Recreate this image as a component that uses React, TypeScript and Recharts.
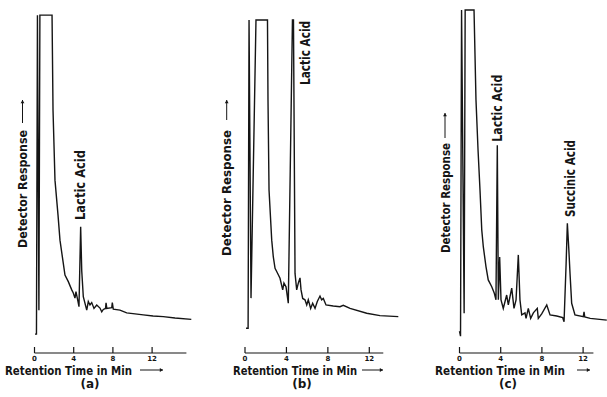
import { LineChart, Line, XAxis, YAxis, ReferenceLine, ReferenceDot } from "recharts"

// retention time (min) and detector response (arbitrary units, 100 = off scale)
const timeA = [0.05, 0.2, 0.3, 0.45, 0.55, 1.79, 1.89, 2.09, 2.4, 2.6, 2.84, 3.11, 3.45, 3.8, 3.96, 4.13, 4.23, 4.37, 4.54, 4.71, 4.82, 4.98, 5.33, 5.49, 5.66, 5.84, 6.07, 6.35, 6.68, 6.86, 7.02, 7.25, 7.3, 7.38, 7.88, 7.94, 8.04, 8.72, 9.41, 10.26, 11.1, 12.1, 13.14, 14.34, 16.0]
const respA = [5.5, 5.5, 98.5, 12.5, 98.5, 98.5, 70.8, 50.4, 40.2, 32.9, 28.1, 22.7, 20.8, 18.4, 17.5, 16.0, 17.9, 16.0, 13.5, 36.8, 24.0, 16.4, 12.5, 15.0, 14.0, 14.7, 13.0, 14.0, 13.1, 12.0, 12.7, 13.0, 14.6, 13.0, 13.2, 14.7, 12.8, 12.5, 11.7, 11.4, 11.1, 10.8, 10.6, 10.2, 9.8]

const timeB = [0.1, 0.3, 0.39, 0.58, 1.06, 2.17, 2.22, 2.32, 2.58, 2.73, 2.9, 3.12, 3.38, 3.64, 3.76, 3.96, 4.18, 4.58, 4.68, 4.83, 4.99, 5.14, 5.31, 5.41, 5.57, 5.79, 5.96, 6.11, 6.34, 6.53, 6.76, 6.98, 7.24, 7.4, 7.56, 7.82, 8.52, 9.17, 9.49, 10.14, 11.75, 13.03, 14.8]
const respB = [7.2, 7.2, 97.1, 16.0, 97.1, 97.1, 73.8, 47.5, 32.9, 28.1, 24.7, 23.4, 21.8, 18.4, 20.4, 19.3, 14.5, 97.1, 97.1, 23.2, 18.4, 20.3, 21.9, 18.4, 15.9, 15.5, 14.0, 15.5, 13.0, 14.5, 13.0, 15.0, 16.6, 15.5, 15.9, 14.0, 13.7, 13.5, 13.9, 13.0, 11.6, 10.9, 10.6]

const timeC = [0, 0.1, 0.2, 0.45, 0.55, 1.41, 1.6, 1.8, 1.99, 2.16, 2.31, 2.57, 2.79, 3.13, 3.38, 3.54, 3.67, 3.77, 3.9, 4.03, 4.25, 4.58, 4.74, 4.9, 5.07, 5.29, 5.49, 5.71, 5.87, 6.04, 6.36, 6.46, 6.68, 6.91, 7.17, 7.55, 7.65, 7.98, 8.47, 8.79, 9.44, 10.02, 10.15, 10.35, 10.47, 10.6, 10.73, 10.89, 11.21, 12.02, 12.09, 12.16, 12.69, 14.3]
const respC = [6.4, 4.9, 100, 11.6, 100, 100, 73.8, 59.2, 47.5, 35.9, 31.0, 25.2, 21.3, 19.3, 17.4, 15.5, 60.6, 15.5, 28.0, 15.5, 13.0, 16.9, 14.0, 16.4, 18.9, 13.0, 15.5, 28.6, 15.5, 11.1, 11.7, 10.1, 13.0, 10.1, 11.7, 13.0, 10.1, 11.4, 14.0, 11.1, 10.8, 10.3, 9.1, 26.0, 37.8, 31.0, 23.2, 14.5, 11.1, 10.6, 12.0, 10.5, 10.1, 9.6]

const minuteTicks = [0, 4, 8, 12]
const panelTags = ["(a)", "(b)", "(c)"]

const W = 607
const H = 397
const FONT = "'DejaVu Sans', 'Liberation Sans', sans-serif"
const INK = "#151515"

// layout of each panel (all three charts share the full 607x397 canvas)
const panels = [
  {
    time: timeA, resp: respA, tag: panelTags[0],
    left: 34.5, right: 415.7, end: 16, axisEnd: 15.5,
    titleX: 5, titleW: 127, arrowX: [140, 163], tagX: 90,
    ylX: 22.5, ylBottom: 248, ylLen: 118, ylArrow: [123, 100],
    peaks: [{ x: 4.71, y: 36.8, text: "Lactic Acid", dx: -0.7, dy: -6.8, len: 70 }],
  },
  {
    time: timeB, resp: respB, tag: panelTags[1],
    left: 245, right: 208.7, end: 14.8, axisEnd: 13.35,
    titleX: 233, titleW: 124, arrowX: [362, 383], tagX: 302,
    ylX: 226.7, ylBottom: 256, ylLen: 126, ylArrow: [120, 100],
    peaks: [{ x: 4.63, y: 97.1, text: "Lactic Acid", dx: 12, dy: 65, len: 64 }],
  },
  {
    time: timeC, resp: respC, tag: panelTags[2],
    left: 459.5, right: 0.2, end: 14.3, axisEnd: 13,
    titleX: 435, titleW: 130, arrowX: [577, 590], tagX: 508,
    ylX: 445, ylBottom: 253, ylLen: 110, ylArrow: [138, 113],
    peaks: [
      { x: 3.67, y: 60.6, text: "Lactic Acid", dx: -0.3, dy: -3.4, len: 67 },
      { x: 10.47, y: 37.8, text: "Succinic Acid", dx: 2.7, dy: -6.3, len: 77 },
    ],
  },
]

function Arrow({ x1, y1, x2, y2 }: any) {
  const a = Math.atan2(y2 - y1, x2 - x1)
  const s = 3.2
  const p1 = [x2 - s * Math.cos(a) + s * 0.6 * Math.sin(a), y2 - s * Math.sin(a) - s * 0.6 * Math.cos(a)]
  const p2 = [x2 - s * Math.cos(a) - s * 0.6 * Math.sin(a), y2 - s * Math.sin(a) + s * 0.6 * Math.cos(a)]
  return (
    <g>
      <line x1={x1} y1={y1} x2={x2} y2={y2} stroke={INK} strokeWidth={1} />
      <path d={`M${x2},${y2}L${p1[0]},${p1[1]}L${p2[0]},${p2[1]}Z`} fill={INK} />
    </g>
  )
}

function UpTick(props: any) {
  const { x, y, payload } = props
  return (
    <g>
      <line x1={x} x2={x} y1={y} y2={y - 6} stroke={INK} strokeWidth={1.2} />
      <text x={x} y={y + 8} textAnchor="middle" fontSize={7} fontWeight="bold" fontFamily={FONT} fill={INK}>
        {payload.value}
      </text>
    </g>
  )
}

function PanelText({ p }: any) {
  return (
    <g fontFamily={FONT} fontWeight="bold" fill={INK}>
      <text x={p.titleX} y={375} fontSize={12} textLength={p.titleW} lengthAdjust="spacingAndGlyphs">
        Retention Time in Min
      </text>
      <Arrow x1={p.arrowX[0]} y1={370} x2={p.arrowX[1]} y2={370} />
      <text x={p.tagX} y={388} fontSize={12} textAnchor="middle">
        {p.tag}
      </text>
      <text
        transform={`translate(${p.ylX},${p.ylBottom}) rotate(-90)`}
        y={4.6}
        fontSize={13}
        textLength={p.ylLen}
        lengthAdjust="spacingAndGlyphs"
      >
        Detector Response
      </text>
      <Arrow x1={p.ylX} y1={p.ylArrow[0]} x2={p.ylX} y2={p.ylArrow[1]} />
    </g>
  )
}

function PeakTag({ viewBox, text, dx, dy, len }: any) {
  const bx = (viewBox?.x ?? 0) + dx
  const by = (viewBox?.y ?? 0) + dy
  return (
    <text
      transform={`translate(${bx},${by}) rotate(-90)`}
      y={4.8}
      fontSize={13.5}
      fontWeight="bold"
      fontFamily={FONT}
      fill={INK}
      textLength={len}
      lengthAdjust="spacingAndGlyphs"
    >
      {text}
    </text>
  )
}

function Panel({ p }: any) {
  const data = p.time.map((t: number, i: number) => ({ t, r: p.resp[i] }))
  return (
    <div style={{ position: "absolute", left: 0, top: 0 }}>
      <LineChart width={W} height={H} data={data} margin={{ top: 10, right: p.right, bottom: 14, left: p.left }}>
        <XAxis
          type="number"
          dataKey="t"
          domain={[0, p.end]}
          ticks={minuteTicks}
          interval={0}
          axisLine={false}
          tickLine={false}
          tickSize={0}
          tickMargin={0}
          height={30}
          tick={<UpTick />}
          label={<PanelText p={p} />}
        />
        <YAxis type="number" domain={[0, 100]} hide />
        <ReferenceLine segment={[{ x: 0, y: 0 }, { x: p.axisEnd, y: 0 }]} stroke={INK} strokeWidth={1.1} />
        <Line type="linear" dataKey="r" stroke={INK} strokeWidth={1.4} dot={false} isAnimationActive={false} />
        {p.peaks.map((pk: any) => (
          <ReferenceDot
            key={pk.text + pk.x}
            x={pk.x}
            y={pk.y}
            r={0}
            fill="none"
            stroke="none"
            label={<PeakTag text={pk.text} dx={pk.dx} dy={pk.dy} len={pk.len} />}
          />
        ))}
      </LineChart>
    </div>
  )
}

export default function App() {
  return (
    <div style={{ position: "absolute", left: 0, top: 0, width: W, height: H, background: "#fff" }}>
      {panels.map((p) => (
        <Panel key={p.tag} p={p} />
      ))}
    </div>
  )
}
